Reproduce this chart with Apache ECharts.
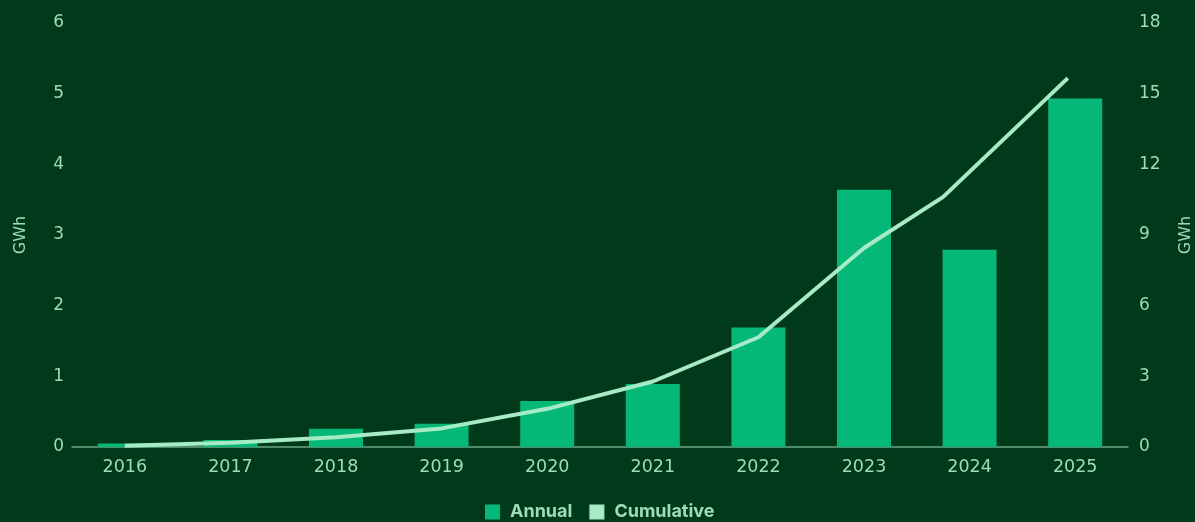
<!DOCTYPE html>
<html>
<head>
<meta charset="utf-8">
<script src="https://cdn.jsdelivr.net/npm/echarts@6/dist/echarts.min.js"></script>
<style>
  html, body { margin: 0; padding: 0; background: #013a1b; }
  #chart { width: 1195px; height: 522px; }
</style>
</head>
<body>
<div id="chart"></div>
<script>
// 年份与数据
var years = ['2016', '2017', '2018', '2019', '2020', '2021', '2022', '2023', '2024', '2025'];
var annual = [0.05, 0.1, 0.26, 0.33, 0.65, 0.89, 1.69, 3.64, 2.79, 4.93];
// cumulative line, position along the year axis (0 = start of 2016 band)
var cumX = [0.5, 1.5, 2.5, 3.5, 4.5, 5.5, 6.5, 7.5, 8.25, 9.43];
var cumulative = [0.05, 0.18, 0.41, 0.79, 1.62, 2.78, 4.66, 8.45, 10.62, 15.66];
var leftTicks = [0, 6, 1];
var rightTicks = [0, 18, 3];

var cumData = cumX.map(function (x, i) { return [x, cumulative[i]]; });

var textColor = '#9fdcb6';
var font = '"DejaVu Sans", sans-serif';

var myChart = echarts.init(document.getElementById('chart'));
var option = {
    backgroundColor: '#013a1b',
    animation: false,
    grid: { left: 72, right: 67, top: 23, bottom: 75, outerBoundsMode: 'none', containLabel: false },
    legend: {
        top: 503,
        left: 485,
        padding: 0,
        itemWidth: 15,
        itemHeight: 15,
        itemGap: 17,
        icon: 'rect',
        textStyle: { color: textColor, fontSize: 18, fontWeight: 'bold', fontFamily: 'Inter, sans-serif', padding: [0, 0, 0, 5] },
        data: ['Annual', 'Cumulative']
    },
    xAxis: [
        {
            type: 'category',
            data: years,
            axisLine: { lineStyle: { color: '#6aa683', width: 1.5 } },
            axisTick: { show: false },
            axisLabel: { color: textColor, fontSize: 17.5, fontFamily: font, margin: 11 }
        },
        {
            type: 'value',
            min: 0,
            max: 10,
            show: false
        }
    ],
    yAxis: [
        {
            type: 'value',
            name: 'GWh',
            nameLocation: 'middle',
            nameGap: 43,
            nameTextStyle: { color: textColor, fontSize: 16, fontFamily: font },
            min: leftTicks[0],
            max: leftTicks[1],
            interval: leftTicks[2],
            splitLine: { show: false },
            axisLine: { show: false },
            axisTick: { show: false },
            axisLabel: { color: textColor, fontSize: 17, fontFamily: font, margin: 8 }
        },
        {
            type: 'value',
            name: 'GWh',
            nameLocation: 'middle',
            nameGap: 50,
            nameRotate: 90,
            nameTextStyle: { color: textColor, fontSize: 16, fontFamily: font },
            min: rightTicks[0],
            max: rightTicks[1],
            interval: rightTicks[2],
            splitLine: { show: false },
            axisLine: { show: false },
            axisTick: { show: false },
            axisLabel: { color: textColor, fontSize: 17, fontFamily: font, margin: 11 }
        }
    ],
    series: [
        {
            name: 'Annual',
            type: 'bar',
            data: annual,
            barWidth: 54,
            itemStyle: { color: '#05b878' }
        },
        {
            name: 'Cumulative',
            type: 'line',
            xAxisIndex: 1,
            yAxisIndex: 1,
            data: cumData,
            showSymbol: false,
            symbol: 'none',
            lineStyle: { color: '#a6ebc6', width: 4 },
            itemStyle: { color: '#a6ebc6' }
        }
    ]
};
myChart.setOption(option);
</script>
</body>
</html>
